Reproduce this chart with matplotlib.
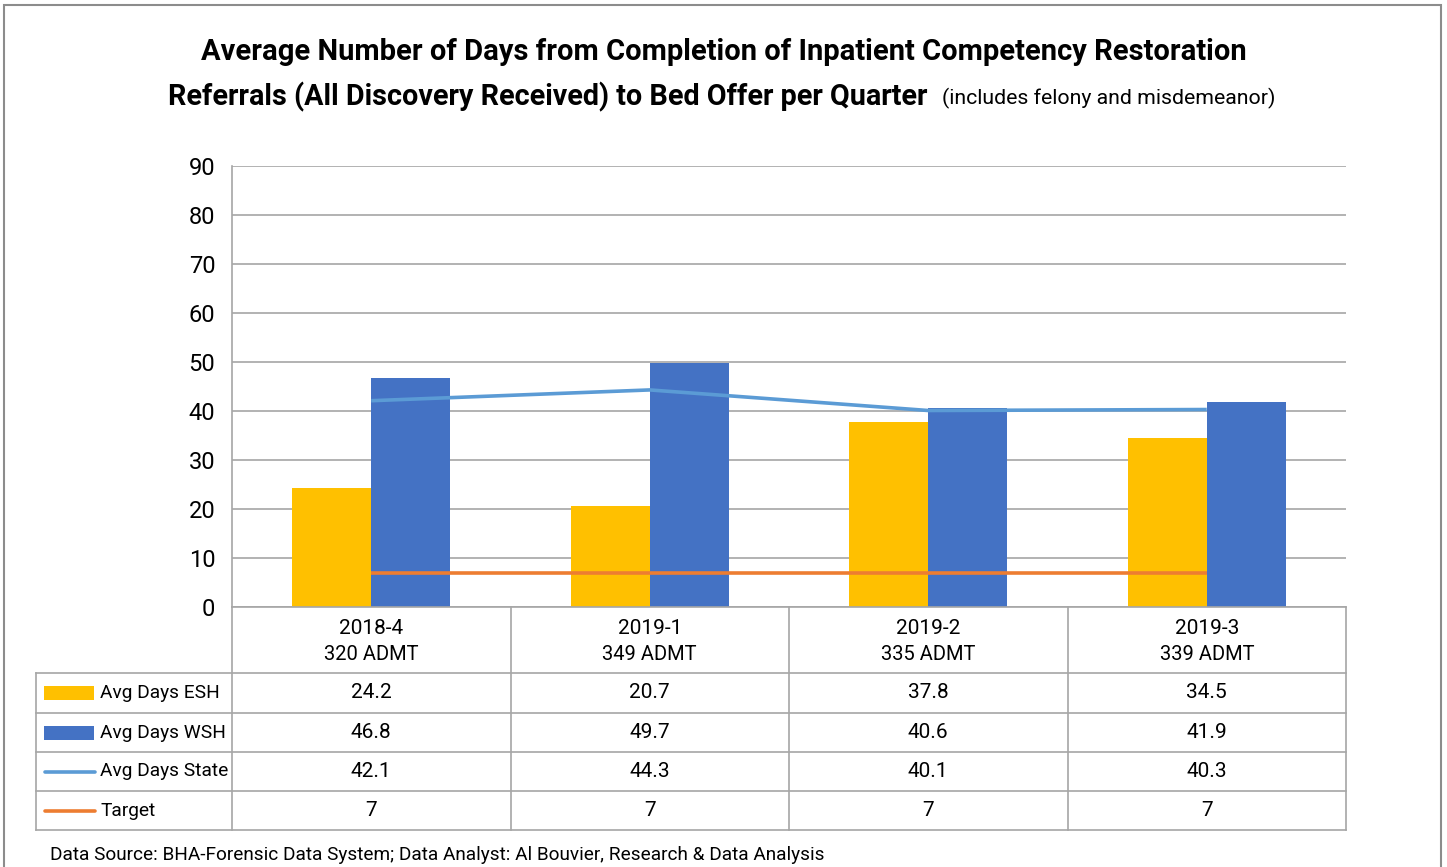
import matplotlib
matplotlib.use("Agg")
import matplotlib.pyplot as plt
from matplotlib.patches import Rectangle
from matplotlib.lines import Line2D

plt.rcParams['font.family'] = ['Roboto', 'DejaVu Sans']

# ---- data ----
quarters = ["2018-4", "2019-1", "2019-2", "2019-3"]
admissions = ["320 ADMT", "349 ADMT", "335 ADMT", "339 ADMT"]
esh = [24.2, 20.7, 37.8, 34.5]
wsh = [46.8, 49.7, 40.6, 41.9]
state = [42.1, 44.3, 40.1, 40.3]
target = [7, 7, 7, 7]
series_names = ["Avg Days ESH", "Avg Days WSH", "Avg Days State", "Target"]
yticks = [0, 10, 20, 30, 40, 50, 60, 70, 80, 90]
title1 = "Average Number of Days from Completion of Inpatient Competency Restoration"
title2 = "Referrals (All Discovery Received) to Bed Offer per Quarter"
subtitle = "(includes felony and misdemeanor)"
footer = "Data Source: BHA-Forensic Data System; Data Analyst: Al Bouvier, Research & Data Analysis"

C_ESH = "#FFC000"
C_WSH = "#4472C4"
C_STATE = "#5B9BD5"
C_TGT = "#ED7D31"
GRID = "#A6A6A6"

W, H = 1447, 867
fig = plt.figure(figsize=(W / 100, H / 100), dpi=100)

def fx(x):
    return x / W

def fy(y):
    return 1 - y / H

# outer frame
fig.add_artist(Rectangle((fx(4), fy(900)), fx(1441) - fx(4), fy(5) - fy(900),
                         transform=fig.transFigure, fill=False, ec="#8C8C8C", lw=1.5))

# plot area
L, R, T, B = 232, 1346, 166, 607
ax = fig.add_axes([fx(L), fy(B), fx(R) - fx(L), fy(T) - fy(B)])
n = len(quarters)
xs = list(range(n))
bw = 0.284
ax.bar([x - bw / 2 for x in xs], esh, width=bw, color=C_ESH, zorder=2)
ax.bar([x + bw / 2 for x in xs], wsh, width=bw, color=C_WSH, zorder=2)
ax.plot(xs, state, color=C_STATE, lw=2.6, zorder=3, solid_capstyle='butt')
ax.plot(xs, target, color=C_TGT, lw=2.6, zorder=3, solid_capstyle='butt')
ax.set_xlim(-0.5, n - 0.5)
ax.set_ylim(0, 90)
ax.set_yticks(yticks)
ax.set_yticklabels([str(v) for v in yticks], fontsize=17, color="#000000")
ax.tick_params(axis='y', length=0, pad=12)
ax.set_xticks([])
ax.grid(axis='y', color=GRID, lw=1.2, zorder=0)
for s in ["top", "right", "bottom"]:
    ax.spines[s].set_visible(False)
ax.spines["left"].set_color(GRID)
ax.spines["left"].set_linewidth(1.2)

# table
col_edges = [L + i * (R - L) / n for i in range(n + 1)]
row_edges = [607, 673, 713, 752, 791, 830]
TL = 36

def hline(y, x0, x1):
    fig.add_artist(Line2D([fx(x0), fx(x1)], [fy(y), fy(y)], transform=fig.transFigure, color=GRID, lw=1.2))

def vline(x, y0, y1):
    fig.add_artist(Line2D([fx(x), fx(x)], [fy(y0), fy(y1)], transform=fig.transFigure, color=GRID, lw=1.2))

hline(row_edges[0], L, R)
for y in row_edges[1:]:
    hline(y, TL, R)
for x in col_edges:
    vline(x, row_edges[0], row_edges[-1])
vline(TL, row_edges[1], row_edges[-1])

for i in range(n):
    cx = (col_edges[i] + col_edges[i + 1]) / 2
    fig.text(fx(cx), fy(628), quarters[i], ha='center', va='center', fontsize=15)
    fig.text(fx(cx), fy(655), admissions[i], ha='center', va='center', fontsize=14.5)

rows = [esh, wsh, state, target]
for r, vals in enumerate(rows):
    cy = (row_edges[r + 1] + row_edges[r + 2]) / 2
    for i, v in enumerate(vals):
        cx = (col_edges[i] + col_edges[i + 1]) / 2
        fig.text(fx(cx), fy(cy), f"{v:g}", ha='center', va='center', fontsize=15)
    fig.text(fx(100), fy(cy), series_names[r], ha='left', va='center', fontsize=13.8)
    if r < 2:
        col = C_ESH if r == 0 else C_WSH
        fig.add_artist(Rectangle((fx(44), fy(cy + 7)), fx(94) - fx(44), fy(cy - 7) - fy(cy + 7),
                                 transform=fig.transFigure, color=col, lw=0))
    else:
        col = C_STATE if r == 2 else C_TGT
        fig.add_artist(Line2D([fx(45), fx(95)], [fy(cy), fy(cy)], transform=fig.transFigure,
                              color=col, lw=2.6, solid_capstyle='round'))

# titles
fig.text(fx(724), fy(52), title1, ha='center', va='center', fontsize=21, fontweight='bold')
fig.text(fx(168), fy(97), title2, ha='left', va='center', fontsize=20.7, fontweight='bold')
fig.text(fx(942), fy(98), subtitle, ha='left', va='center', fontsize=15.3)

fig.text(fx(50), fy(855), footer, ha='left', va='center', fontsize=13.7)

fig.savefig("out.png", dpi=100, facecolor="white")
